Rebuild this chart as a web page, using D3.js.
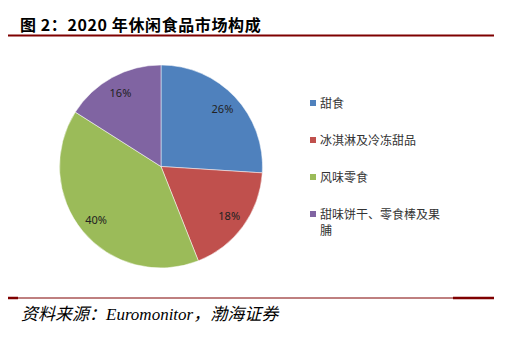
<!DOCTYPE html>
<html>
<head>
<meta charset="utf-8">
<script src="https://cdn.jsdelivr.net/npm/d3@7/dist/d3.min.js"></script>
<style>
  body { margin: 0; background: #fff; }
  svg { display: block; }
  .title { font-family: "Noto Sans CJK SC", sans-serif; font-weight: bold; font-size: 16px; letter-spacing: 0.6px; fill: #000; }
  .pct { font-family: "Noto Sans", "Noto Sans CJK SC", sans-serif; font-size: 11px; fill: #222; }
  .legend text { font-family: "Noto Sans CJK SC", sans-serif; font-size: 12px; fill: #333; }
  .source { font-family: "Liberation Serif", "Noto Sans CJK SC", serif; font-style: italic; font-size: 17px; fill: #000; }
</style>
</head>
<body>
<svg></svg>
<script>
  var categories = ["甜食", "冰淇淋及冷冻甜品", "风味零食", "甜味饼干、零食棒及果脯"];
  var shares = [26, 18, 40, 16];
  var colors = ["#4f81bd", "#c0504d", "#9bbb59", "#8064a2"];

  var width = 520, height = 364;
  var svg = d3.select("svg").attr("width", width).attr("height", height);

  // header
  svg.append("text").attr("class", "title").attr("x", 20).attr("y", 31)
    .text("图 2：2020 年休闲食品市场构成");
  svg.append("line").attr("x1", 8).attr("x2", 494).attr("y1", 35.5).attr("y2", 35.5)
    .attr("stroke", "#7f0000").attr("stroke-width", 2);

  // pie
  var cx = 161, cy = 166.5, r = 101.5;
  var pie = d3.pie().sort(null).value(d => d);
  var arc = d3.arc().innerRadius(0).outerRadius(r);
  var labelArc = d3.arc().innerRadius(r * 0.83).outerRadius(r * 0.83);

  var g = svg.append("g").attr("transform", "translate(" + cx + "," + cy + ")");
  var slices = pie(shares);
  g.selectAll("path").data(slices).enter().append("path")
    .attr("d", arc)
    .attr("fill", (d, i) => colors[i])
    .attr("stroke", "#fff")
    .attr("stroke-width", 0.5);
  g.selectAll("text").data(slices).enter().append("text")
    .attr("class", "pct")
    .attr("transform", d => "translate(" + labelArc.centroid(d) + ")")
    .attr("text-anchor", "middle")
    .attr("dy", "0.35em")
    .text(d => d.data + "%");

  // legend
  var legendY = d3.scalePoint().domain(categories).range([104, 215]);
  var lg = svg.append("g").attr("class", "legend");
  categories.forEach(function (c, i) {
    var y = legendY(c);
    lg.append("rect").attr("x", 310).attr("y", y - 4).attr("width", 6).attr("height", 6)
      .attr("fill", colors[i]);
    var t = lg.append("text").attr("x", 320).attr("y", y + 4);
    if (c.length > 10) {
      t.append("tspan").attr("x", 320).text(c.slice(0, 10));
      t.append("tspan").attr("x", 320).attr("dy", 16).text(c.slice(10));
    } else {
      t.text(c);
    }
  });

  // footer
  svg.append("line").attr("x1", 8).attr("x2", 494).attr("y1", 298).attr("y2", 298)
    .attr("stroke", "#7f0000").attr("stroke-width", 1);
  svg.append("line").attr("x1", 8).attr("x2", 18).attr("y1", 298).attr("y2", 298)
    .attr("stroke", "#7f0000").attr("stroke-width", 2.5);
  svg.append("line").attr("x1", 453).attr("x2", 494).attr("y1", 298).attr("y2", 298)
    .attr("stroke", "#7f0000").attr("stroke-width", 2.5);
  svg.append("text").attr("class", "source").attr("x", 21).attr("y", 320)
    .text("资料来源：Euromonitor，渤海证券");

  // heading of the next section, cut off by the bottom edge as in the source page
  svg.append("text").attr("x", 12).attr("y", 385)
    .attr("font-family", "Noto Sans CJK SC, sans-serif").attr("font-weight", "bold")
    .attr("font-size", 22).attr("fill", "#c00000")
    .text("投资要点");
</script>
</body>
</html>
